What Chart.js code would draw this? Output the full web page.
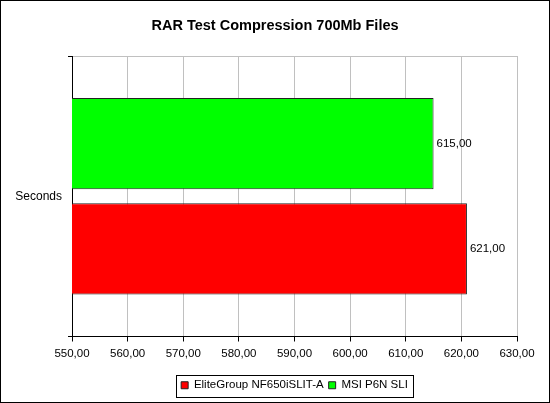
<!DOCTYPE html>
<html>
<head>
<meta charset="utf-8">
<script src="https://cdn.jsdelivr.net/npm/chart.js@4"></script>
<style>
  html, body { margin: 0; padding: 0; background: #fff; }
  canvas { display: block; }
</style>
</head>
<body>
<canvas id="rarChart" width="550" height="403"></canvas>
<script>
// chart data
const categories = ['Seconds'];
const seriesNames = ['EliteGroup NF650iSLIT-A', 'MSI P6N SLI'];
const eliteValues = [621];
const msiValues = [615];
const xTicks = [550, 560, 570, 580, 590, 600, 610, 620, 630];

const FONT = '"Liberation Sans", Arial, sans-serif';

function fmt(v) {
    return Number(v).toFixed(2).replace('.', ',');
}

// value labels at bar ends
const valueLabels = {
    id: 'valueLabels',
    afterDatasetsDraw(chart) {
        const ctx = chart.ctx;
        ctx.save();
        ctx.font = '11.5px ' + FONT;
        ctx.fillStyle = '#000';
        ctx.textBaseline = 'middle';
        ctx.textAlign = 'left';
        chart.data.datasets.forEach((ds, i) => {
            chart.getDatasetMeta(i).data.forEach((bar, j) => {
                ctx.fillText(fmt(ds.data[j]), bar.x + 3, bar.y);
            });
        });
        ctx.restore();
    }
};

// centre title on canvas, legend on plot area; draw frames
const frames = {
    id: 'frames',
    afterLayout(chart) {
        const t = chart.titleBlock;
        t.left = 0; t.right = chart.width; t.width = chart.width;
        const lg = chart.legend;
        const ca = chart.chartArea;
        lg.left = ca.left; lg.right = ca.right; lg.width = ca.right - ca.left;
    },
    beforeDraw(chart) {
        const ctx = chart.ctx;
        ctx.save();
        ctx.fillStyle = '#fff';
        ctx.fillRect(0, 0, chart.width, chart.height);
        ctx.restore();
    },
    afterDraw(chart) {
        const ctx = chart.ctx;
        const lg = chart.legend;
        const boxes = lg.legendHitBoxes;
        ctx.save();
        ctx.strokeStyle = '#000';
        ctx.lineWidth = 1;
        ctx.strokeRect(0.5, 0.5, chart.width - 1, chart.height - 1);
        if (boxes && boxes.length) {
            const l = Math.min(...boxes.map(b => b.left)) - 5;
            const r = Math.max(...boxes.map(b => b.left + b.width)) + 5;
            const t = Math.min(...boxes.map(b => b.top)) - 5;
            const btm = Math.max(...boxes.map(b => b.top + b.height)) + 5;
            ctx.strokeRect(Math.round(l) + 0.5, Math.round(t) + 0.5,
                Math.round(r - l), Math.round(btm - t));
        }
        ctx.restore();
    }
};

const ctx = document.getElementById('rarChart').getContext('2d');
new Chart(ctx, {
    type: 'bar',
    data: {
        labels: categories,
        datasets: [
            {
                label: seriesNames[1],
                data: msiValues,
                backgroundColor: '#00ff00',
                borderColor: '#222222',
                borderWidth: 1
            },
            {
                label: seriesNames[0],
                data: eliteValues,
                backgroundColor: '#ff0000',
                borderColor: '#222222',
                borderWidth: 1
            }
        ]
    },
    options: {
        indexAxis: 'y',
        responsive: false,
        animation: false,
        devicePixelRatio: 1,
        layout: { padding: { left: 0, right: 33, top: 0, bottom: 2 } },
        datasets: {
            bar: { categoryPercentage: 0.751, barPercentage: 0.865 }
        },
        plugins: {
            title: {
                display: true,
                text: 'RAR Test Compression 700Mb Files',
                color: '#000',
                font: { family: FONT, size: 14.5, weight: 'bold' },
                padding: { top: 17, bottom: 21.6 }
            },
            legend: {
                position: 'bottom',
                reverse: true,
                labels: {
                    color: '#000',
                    font: { family: FONT, size: 11.5 },
                    boxWidth: 7,
                    boxHeight: 7,
                    padding: 5,
                    generateLabels(chart) {
                        return chart.data.datasets.map((ds, i) => ({
                            text: ds.label,
                            fillStyle: ds.backgroundColor,
                            strokeStyle: '#222',
                            lineWidth: 1,
                            datasetIndex: i
                        }));
                    }
                }
            },
            tooltip: { enabled: false }
        },
        scales: {
            x: {
                min: 550,
                max: 630,
                afterBuildTicks(scale) {
                    scale.ticks = xTicks.map(v => ({ value: v }));
                },
                afterFit(scale) { scale.height = 38; },
                ticks: {
                    color: '#000',
                    font: { family: FONT, size: 11.5 },
                    maxRotation: 0,
                    padding: 5,
                    callback: v => fmt(v)
                },
                grid: { color: '#c0c0c0', tickColor: '#000', tickLength: 5 },
                border: { color: '#000' }
            },
            y: {
                afterFit(scale) { scale.width = 72; },
                ticks: {
                    color: '#000',
                    font: { family: FONT, size: 12 },
                    padding: 6
                },
                grid: { color: '#c0c0c0', tickColor: '#000', tickLength: 4, offset: true },
                border: { color: '#000' }
            }
        }
    },
    plugins: [valueLabels, frames]
});
</script>
</body>
</html>
